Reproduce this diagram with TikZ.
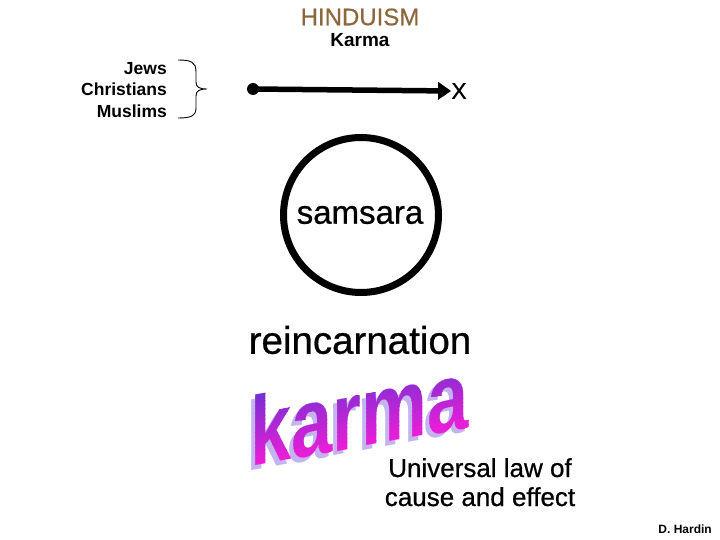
\documentclass[tikz,border=0pt]{standalone}
\usepackage{fontspec}
\setmainfont{Liberation Sans}
\newfontfamily\rg{Liberation Sans}[FakeBold=0.7]
\usetikzlibrary{arrows.meta}
\definecolor{hbrown}{RGB}{140,105,60}
\definecolor{kbot}{RGB}{235,30,215}
\definecolor{ktop}{RGB}{110,50,210}
\definecolor{kshadow}{RGB}{195,180,240}
\newcommand{\myfs}[1]{\fontsize{#1}{#1}\selectfont}
\begin{document}
\begin{tikzpicture}[x=1pt,y=-1pt,
  lbl/.style={inner sep=0pt},
  wa/.style={transform shape, anchor=base west, inner sep=0pt, xscale=0.95, font=\bfseries\myfs{78}}]
\useasboundingbox (0,0) rectangle (720,540);
% titles
\node[lbl, text=hbrown, font=\rg\myfs{24}] (title) at (360,17) {HINDUISM};
\node[lbl, font=\bfseries\myfs{19}] (karmasub) at (360,40.5) {Karma};
% groups and brace
\node[lbl, anchor=east, align=right, font=\bfseries\fontsize{17.5}{21.5}\selectfont] (groups) at (167,90) {Jews\\Christians\\Muslims};
\coordinate (btop) at (178,60);
\coordinate (bbot) at (178,118);
\coordinate (btip) at (207,89);
\draw[line width=0.9pt] (btop) .. controls (191,60) and (196,62) .. (196,72) -- (196,82)
  .. controls (196,87) and (199,89) .. (btip)
  .. controls (199,89) and (196,91) .. (196,96) -- (196,108)
  .. controls (196,116) and (191,118) .. (bbot);
% arrow line
\node[circle, fill, inner sep=0pt, minimum size=12pt] (start) at (253,89) {};
\node[lbl, font=\rg\myfs{23}] (xend) at (459,91) {X};
\draw[line width=5.5pt, -{Triangle[length=13pt,width=17pt]}] (start.center) -- (xend.west);
% samsara circle
\node[circle, draw, line width=7pt, minimum size=155pt, inner sep=0pt] (ring) at (361,215) {};
\node[lbl, font=\rg\myfs{33}] (samsara) at (360,215) {samsara};
% reincarnation
\node[lbl, font=\rg\myfs{38.5}] (reinc) at (360,340) {reincarnation};
% WordArt karma
\begin{scope}[shift={(250,467)}, yslant=0.18, yscale=1.25]
  \node[wa, text=kshadow] (kshad) at (-4,3) {karma};
  \foreach \i in {0,...,19} {
    \pgfmathsetmacro\pc{100-\i*5}
    \begin{scope}
      \ifnum\i=0
        \clip (-10,10) rectangle (260,{-3.3});
      \else\ifnum\i=19
        \clip (-10,{-\i*3}) rectangle (260,-120);
      \else
        \clip (-10,{-\i*3}) rectangle (260,{-(\i+1)*3-0.3});
      \fi\fi
      \node[wa, text=kbot!\pc!ktop] (kband\i) at (0,0) {karma};
    \end{scope}
  }
\end{scope}
% universal law
\node[lbl, anchor=base, font=\rg\myfs{26}] (law1) at (480,477) {Universal law of};
\node[lbl, anchor=base, font=\rg\myfs{26}] (law2) at (480,506) {cause and effect};
% author
\node[lbl, anchor=east, font=\bfseries\myfs{12}] (author) at (712,529) {D. Hardin};
\end{tikzpicture}
\end{document}
